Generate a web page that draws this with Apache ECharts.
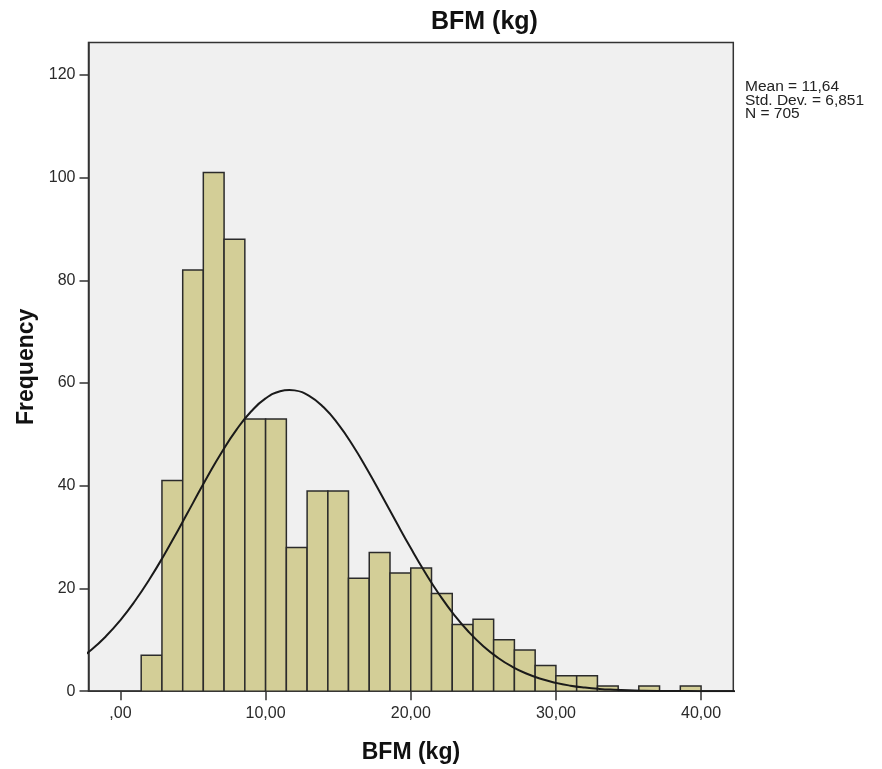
<!DOCTYPE html>
<html>
<head>
<meta charset="utf-8">
<script src="https://cdn.jsdelivr.net/npm/echarts@6/dist/echarts.min.js"></script>
<style>
html,body{margin:0;padding:0;background:#fff;}
#chart{width:882px;height:769px;}
</style>
</head>
<body>
<div id="chart"></div>
<script>
// Histogram bin edges (bin width 10/7) and counts
var binEdges = [1.43, 2.86, 4.29, 5.71, 7.14, 8.57, 10.00, 11.43, 12.86, 14.29, 15.71, 17.14, 18.57, 20.00,
                21.43, 22.86, 24.29, 25.71, 27.14, 28.57, 30.00, 31.43, 32.86, 34.29, 35.71, 37.14, 38.57, 40.00];
var counts = [7, 41, 82, 101, 88, 53, 53, 28, 39, 39, 22, 27, 23, 24, 19, 13, 14, 10, 8, 5, 3, 3, 1, 0, 1, 0, 1];

// Normal curve
var curveX = [-3, -2, -1, 0, 1, 2, 3, 4, 5, 6, 7, 8, 9, 10, 11, 11.64, 12, 13, 14, 15, 16, 17, 18, 19, 20,
              21, 22, 23, 24, 25, 26, 27, 28, 29, 30, 31, 32, 33, 34, 35, 36, 38, 40, 43];
var curveY = [5.98, 8.08, 10.69, 13.85, 17.56, 21.79, 26.48, 31.49, 36.67, 41.80, 46.63, 50.93, 54.45, 57.0, 58.40, 58.65, 58.57, 57.51, 55.27, 52.0, 47.9, 43.18, 38.12, 32.93, 27.86,
              23.07, 18.69, 14.83, 11.52, 8.76, 6.52, 4.75, 3.39, 2.37, 1.62, 1.08, 0.71, 0.45, 0.285, 0.17, 0.105, 0.036, 0.011, 0.002];

var xTickValues = [0, 10, 20, 30, 40];
var xTickLabels = [',00', '10,00', '20,00', '30,00', '40,00'];
var yTickValues = [0, 20, 40, 60, 80, 100, 120];

var statsLines = ['Mean = 11,64', 'Std. Dev. = 6,851', 'N = 705'];

var barData = [];
for (var i = 0; i < counts.length; i++) {
  barData.push([binEdges[i], binEdges[i + 1], counts[i]]);
}
var lineData = curveX.map(function (x, i) { return [x, curveY[i]]; });

var chart = echarts.init(document.getElementById('chart'), null, {renderer: 'canvas'});
var FONT = 'Liberation Sans, Arial, sans-serif';
chart.setOption({
  animation: false,
  backgroundColor: '#ffffff',
  title: {
    text: 'BFM (kg)',
    left: 431,
    top: 10,
    padding: 0,
    textStyle: {fontFamily: FONT, fontSize: 25, fontWeight: 'bold', color: '#111'}
  },
  grid: {
    left: 88.5, right: 148.7, top: 42.5, bottom: 77.8,
    containLabel: false,
    outerBoundsMode: 'none',
    show: true, backgroundColor: '#F0F0F0', borderColor: '#333', borderWidth: 1.5
  },
  xAxis: {
    type: 'value',
    min: -2.2, max: 42.22,
    name: 'BFM (kg)',
    nameLocation: 'middle',
    nameGap: 50,
    nameTextStyle: {fontFamily: FONT, fontSize: 23, fontWeight: 'bold', color: '#111'},
    splitLine: {show: false},
    axisLine: {show: true, onZero: false, lineStyle: {color: '#333', width: 1.5}},
    axisTick: {show: true, length: 9, customValues: xTickValues, lineStyle: {color: '#333', width: 1.5}},
    axisLabel: {
      customValues: xTickValues,
      margin: 14,
      fontFamily: FONT, fontSize: 16, color: '#2a2a2a',
      formatter: function (v) {
        var idx = xTickValues.indexOf(v);
        return idx >= 0 ? xTickLabels[idx] : '';
      }
    }
  },
  yAxis: {
    type: 'value',
    min: 0, max: 126.3,
    name: 'Frequency',
    nameLocation: 'middle',
    nameGap: 45,
    nameTextStyle: {fontFamily: FONT, fontSize: 23, fontWeight: 'bold', color: '#111'},
    splitLine: {show: false},
    axisLine: {show: true, onZero: false, lineStyle: {color: '#333', width: 1.5}},
    axisTick: {show: true, length: 9, customValues: yTickValues, lineStyle: {color: '#333', width: 1.5}},
    axisLabel: {customValues: yTickValues, margin: 13, fontFamily: FONT, fontSize: 16, color: '#2a2a2a'}
  },
  series: [
    {
      type: 'custom',
      data: barData,
      encode: {x: [0, 1], y: 2},
      clip: true,
      renderItem: function (params, api) {
        var v = api.value(2);
        if (!v) return {type: 'group', children: []};
        var p0 = api.coord([api.value(0), 0]);
        var p1 = api.coord([api.value(1), v]);
        return {
          type: 'rect',
          shape: {x: p0[0], y: p1[1], width: p1[0] - p0[0], height: p0[1] - p1[1]},
          style: {fill: '#D3CE97', stroke: '#2b2b2b', lineWidth: 1.5}
        };
      }
    },
    {
      type: 'line',
      data: lineData,
      smooth: true,
      showSymbol: false,
      clip: true,
      lineStyle: {color: '#1a1a1a', width: 2},
      z: 5
    }
  ],
  graphic: [
    {
      type: 'text',
      left: 745,
      top: 79,
      style: {
        text: statsLines.join('\n'),
        fontFamily: FONT, fontSize: 15.5, lineHeight: 13.5,
        fill: '#222'
      }
    }
  ]
});
</script>
</body>
</html>
